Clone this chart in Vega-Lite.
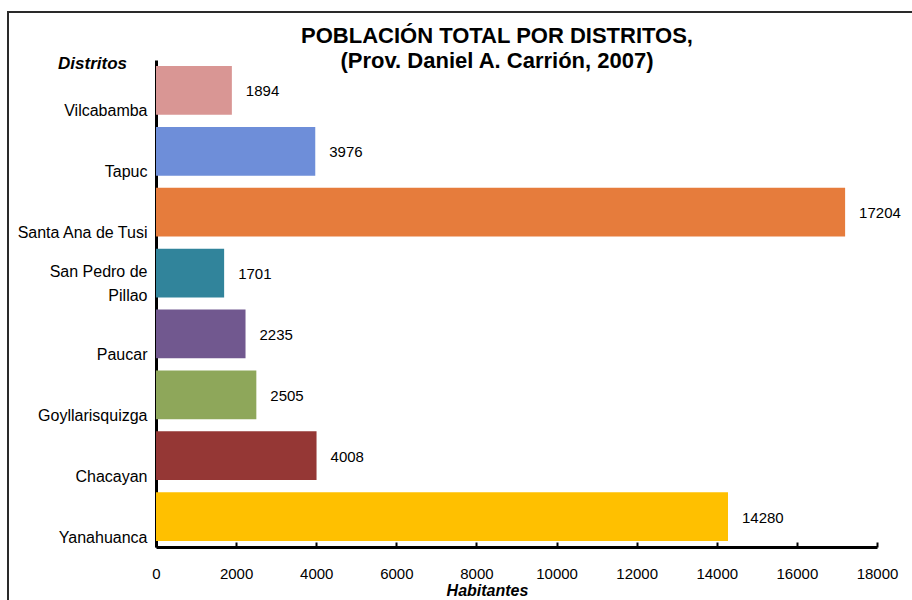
{
  "$schema": "https://vega.github.io/schema/vega-lite/v6.json",
  "width": 904,
  "height": 588,
  "autosize": {"type": "none"},
  "padding": {"left": 8, "top": 12, "right": 0, "bottom": 0},
  "background": "white",
  "title": {
    "text": ["POBLACIÓN TOTAL POR DISTRITOS,", "(Prov. Daniel A. Carrión, 2007)"],
    "font": "Liberation Sans",
    "fontSize": 22,
    "fontWeight": "bold",
    "color": "black",
    "anchor": "middle",
    "frame": "group",
    "dx": 37,
    "offset": -61,
    "lineHeight": 25
  },
  "data": {
    "values": [
      {"distrito": "Vilcabamba", "habitantes": 1894},
      {"distrito": "Tapuc", "habitantes": 3976},
      {"distrito": "Santa Ana de Tusi", "habitantes": 17204},
      {"distrito": "San Pedro de Pillao", "habitantes": 1701},
      {"distrito": "Paucar", "habitantes": 2235},
      {"distrito": "Goyllarisquizga", "habitantes": 2505},
      {"distrito": "Chacayan", "habitantes": 4008},
      {"distrito": "Yanahuanca", "habitantes": 14280}
    ]
  },
  "encoding": {
    "y": {
      "field": "distrito",
      "type": "nominal",
      "sort": null,
      "scale": {"paddingInner": 0.2, "paddingOuter": 0.1, "range": [48, 535]},
      "axis": {
        "offset": -148,
        "title": "Distritos",
        "titleAngle": 0,
        "titleX": -64,
        "titleY": 51,
        "titleAlign": "center",
        "titleBaseline": "middle",
        "titleFont": "Liberation Sans",
        "titleFontSize": 17,
        "titleFontWeight": "bold",
        "titleFontStyle": "italic",
        "titleColor": "black",
        "domainColor": "black",
        "domainWidth": 3,
        "ticks": false,
        "labelFont": "Liberation Sans",
        "labelFontSize": 16,
        "labelColor": "black",
        "labelPadding": 9,
        "labelBaseline": "bottom",
        "labelOffset": {"condition": {"test": "datum.value == 'San Pedro de Pillao'", "value": 7}, "value": 29},
        "labelExpr": "datum.value == 'San Pedro de Pillao' ? ['San Pedro de', 'Pillao'] : datum.label",
        "labelLineHeight": 24,
        "labelLimit": 200
      }
    },
    "x": {
      "field": "habitantes",
      "type": "quantitative",
      "scale": {"domain": [0, 18000], "nice": false, "range": [148, 869]},
      "axis": {
        "offset": -53,
        "title": "Habitantes",
        "titleX": 479,
        "titleY": 43,
        "titleAlign": "center",
        "titleBaseline": "middle",
        "titleFont": "Liberation Sans",
        "titleFontSize": 16,
        "titleFontWeight": "bold",
        "titleFontStyle": "italic",
        "titleColor": "black",
        "domainColor": "black",
        "domainWidth": 3,
        "tickColor": "black",
        "tickSize": -5,
        "tickWidth": 2,
        "grid": false,
        "values": [0, 2000, 4000, 6000, 8000, 10000, 12000, 14000, 16000, 18000],
        "format": "d",
        "labelFont": "Liberation Sans",
        "labelFontSize": 15,
        "labelColor": "black",
        "labelPadding": 24,
        "labelFlush": false
      }
    }
  },
  "layer": [
    {
      "mark": {"type": "bar"},
      "encoding": {
        "color": {
          "field": "distrito",
          "type": "nominal",
          "legend": null,
          "scale": {
            "domain": ["Vilcabamba", "Tapuc", "Santa Ana de Tusi", "San Pedro de Pillao", "Paucar", "Goyllarisquizga", "Chacayan", "Yanahuanca"],
            "range": ["#D99694", "#6E8ED9", "#E67C3C", "#31849B", "#71588F", "#8EA75A", "#953735", "#FFC000"]
          }
        }
      }
    },
    {
      "mark": {"type": "text", "align": "left", "baseline": "middle", "dx": 14, "dy": 1, "font": "Liberation Sans", "fontSize": 15, "color": "black"},
      "encoding": {
        "text": {"field": "habitantes", "type": "quantitative", "format": "d"}
      }
    }
  ],
  "config": {"view": {"stroke": "#2a2a2a", "strokeWidth": 2, "strokeDash": [904, 1492, 588]}}
}
